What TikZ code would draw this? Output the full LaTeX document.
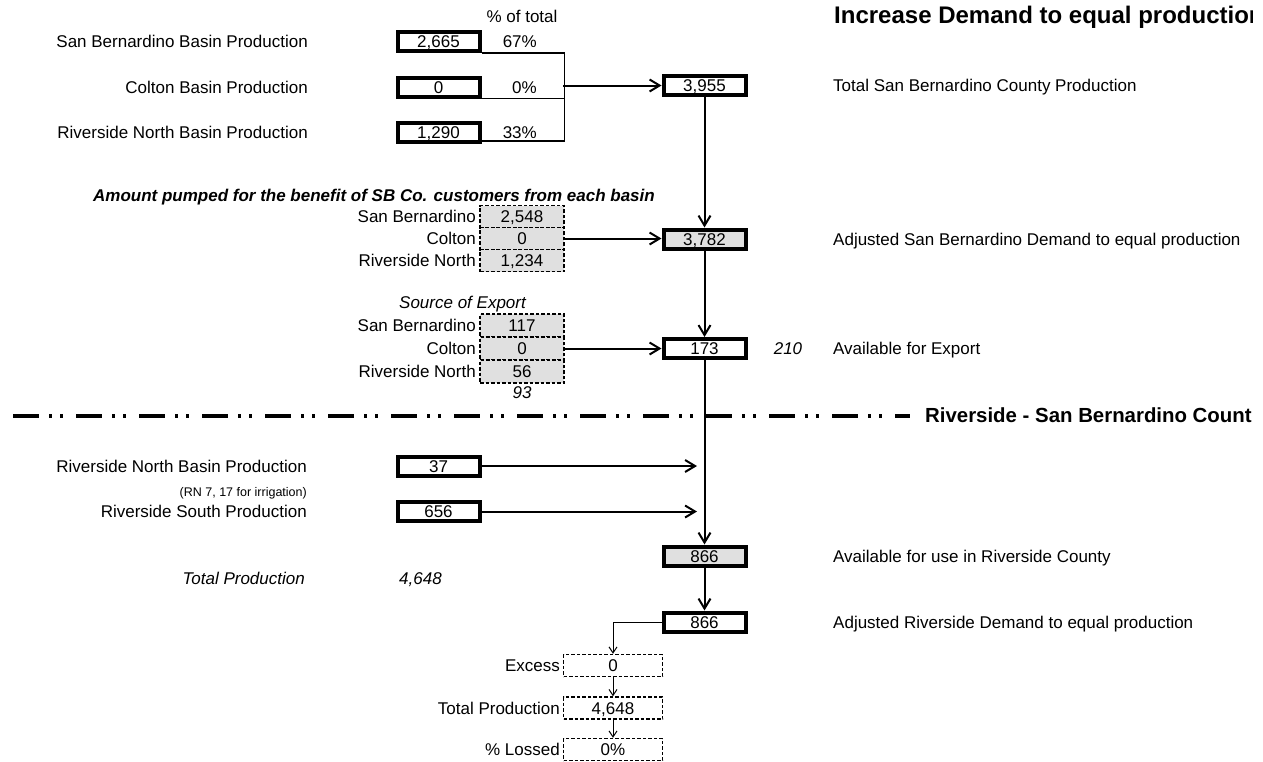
\documentclass[tikz,border=0pt]{standalone}
\usepackage{fontspec}
\setmainfont{Liberation Sans}
\usetikzlibrary{arrows.meta}
\definecolor{cellgray}{HTML}{E0E0E0}
\newcommand\fsn{\fontsize{17}{20}\selectfont}
\begin{document}
\begin{tikzpicture}[x=1pt,y=-1pt,
  lbl/.style={inner sep=0pt, text height=12.2pt, text depth=0pt, font=\fsn},
  lblR/.style={lbl, anchor=east},
  lblL/.style={lbl, anchor=west},
  tbox/.style={lbl, anchor=center, draw, line width=4pt, minimum width=82pt, minimum height=19pt, fill=white},
  gbox/.style={tbox, fill=cellgray},
  dcell/.style={lbl, anchor=center, draw, line width=1.4pt, dash pattern=on 3.5pt off 2pt, minimum width=84pt, minimum height=22pt, fill=cellgray},
  wcell/.style={dcell, fill=white, minimum width=99pt},
  arr/.style={line width=2pt, -{Straight Barb[length=10pt,width=12pt]}},
  tarr/.style={line width=1pt, -{Straight Barb[length=6pt,width=8pt]}},
  bracket/.style={line width=1.2pt},
  sep/.style={line width=4pt, dash pattern=on 26pt off 10pt on 3pt off 8pt on 3pt off 13pt}
]
\useasboundingbox (0,0) rectangle (1263,761);

% ---------- top: basin production ----------
\node[lbl] (pcth) at (522,16) {\% of total};
\node[lblR] (l1) at (308,41.5) {San Bernardino Basin Production};
\node[lblR] (l2) at (308,87) {Colton Basin Production};
\node[lblR] (l3) at (308,132) {Riverside North Basin Production};
\node[tbox] (b2665) at (438.5,41.5) {2,665};
\node[tbox] (b0) at (438.5,87) {0};
\node[tbox] (b1290) at (438.5,132) {1,290};
\node[lblR] (p1) at (537,41.5) {67\%};
\node[lblR] (p2) at (537,87) {0\%};
\node[lblR] (p3) at (537,132) {33\%};

\node[tbox] (b3955) at (704.5,85.5) {3,955};
\node[lblL] (r1) at (833,85.5) {Total San Bernardino County Production};

\coordinate (r3) at ([yshift=2.5pt]b1290.south east);
\draw[bracket] (b2665.south east) -- ++(83,0) coordinate (bt) -- (r3 -| bt) -- (r3);
\draw[bracket] (b0.south east) -- (b0.south east -| bt);
\coordinate (jn) at (563,85.5);
\draw[arr] (jn) -- (b3955.west);

% ---------- amount pumped ----------
\node[lblR, font=\fsn\bfseries\itshape] (amt) at (655,195) {Amount pumped for the benefit of SB Co. customers from each basin};
\node[dcell] (s1) at (522,216.5) {2,548};
\node[dcell] (s2) at (522,238.5) {0};
\node[dcell] (s3) at (522,260.5) {1,234};
\node[lblR] (sl1) at (476,216.5) {San Bernardino};
\node[lblR] (sl2) at (476,238.5) {Colton};
\node[lblR] (sl3) at (476,260.5) {Riverside North};
\node[gbox] (b3782) at (704.5,239) {3,782};
\node[lblL] (r2) at (833,239) {Adjusted San Bernardino Demand to equal production};
\draw[arr] (s2.east) -- (s2.east -| b3782.west);
\draw[arr] (b3955) -- (b3782);

% ---------- source of export ----------
\node[lbl, font=\fsn\itshape] (soe) at (462.5,302) {Source of Export};
\node[dcell, minimum height=23pt] (e1) at (522,325.5) {117};
\node[dcell, minimum height=23pt] (e2) at (522,348.5) {0};
\node[dcell, minimum height=23pt] (e3) at (522,371.5) {56};
\node[lblR] (el1) at (476,325.5) {San Bernardino};
\node[lblR] (el2) at (476,348.5) {Colton};
\node[lblR] (el3) at (476,371.5) {Riverside North};
\node[lbl, font=\fsn\itshape] (n93) at (522,392) {93};
\node[tbox] (b173) at (704.5,348.5) {173};
\node[lbl, font=\fsn\itshape] (n210) at (788,348) {210};
\node[lblL] (r3t) at (833,348) {Available for Export};
\draw[arr] (e2.east) -- (e2.east -| b173.west);
\draw[arr] (b3782) -- (b173);

% ---------- county line ----------
\coordinate (cl0) at (13,416);
\coordinate (cl1) at (910,416);
\draw[sep] (cl0) -- (cl1);
\node[lbl, anchor=west, font=\bfseries\fontsize{20.4}{24}\selectfont, text height=14.6pt] (cline) at (925,415) {Riverside - San Bernardino Count};
\begin{scope}
\clip (0,0) rectangle (1252,761);
\node[lbl, anchor=west, font=\bfseries\fontsize{24}{28}\selectfont, text height=17.2pt] (title) at (834,14.5) {Increase Demand to equal production};
\end{scope}

% ---------- riverside ----------
\node[lblR] (rl1) at (307,466) {Riverside North Basin Production};
\node[lbl, anchor=east, font=\fontsize{12.5}{15}\selectfont, text height=9pt] (rn) at (307,492) {(RN 7, 17 for irrigation)};
\node[lblR] (rl2) at (307,511.5) {Riverside South Production};
\node[tbox] (b37) at (438.5,466) {37};
\node[tbox] (b656) at (438.5,511.5) {656};
\coordinate (m1) at (697,466);
\coordinate (m2) at (697,511.5);
\draw[arr] (b37) -- (m1);
\draw[arr] (b656) -- (m2);

\node[gbox] (b866a) at (704.5,556) {866};
\node[lblL] (r4) at (833,556) {Available for use in Riverside County};
\draw[arr] (b173) -- (b866a);

\node[lbl, anchor=east, font=\fsn\itshape] (tp) at (305,578) {Total Production};
\node[lbl, anchor=west, font=\fsn\itshape] (tpv) at (399,578) {4,648};

\node[tbox] (b866b) at (704.5,622) {866};
\node[lblL] (r5) at (833,622) {Adjusted Riverside Demand to equal production};
\draw[arr] (b866a) -- (b866b);

% ---------- bottom cells ----------
\node[wcell] (c1) at (613,665.5) {0};
\node[wcell] (c2) at (613,708) {4,648};
\node[wcell] (c3) at (613,749.5) {0\%};
\node[lblR] (cl1t) at (560,665.5) {Excess};
\node[lblR] (cl2t) at (560,708) {Total Production};
\node[lblR] (cl3t) at (560,749.5) {\% Lossed};
\draw[tarr] (b866b.west) -| (c1.north);
\draw[tarr] (c1) -- (c2);
\draw[tarr] (c2) -- (c3);
\end{tikzpicture}
\end{document}
